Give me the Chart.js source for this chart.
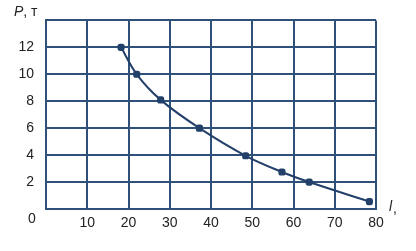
<!DOCTYPE html>
<html><head><meta charset="utf-8">
<script src="https://cdn.jsdelivr.net/npm/chart.js@4/dist/chart.umd.min.js"></script>
<style>html,body{margin:0;padding:0;background:#fff}#wrap{width:416px;height:251px}</style>
</head><body><div id="wrap"><canvas id="c" width="416" height="251"></canvas></div>
<script>
const lengthValues = [18.2, 22, 27.8, 37.2, 48.4, 57.2, 63.8, 78.4];
const forceValues = [12, 10, 8.1, 6, 3.95, 2.75, 2, 0.55];
const xTicks = [10, 20, 30, 40, 50, 60, 70, 80];
const yTicks = [2, 4, 6, 8, 10, 12];

const gridColor = '#2f5078';
const lineColor = '#22406a';
const textColor = '#222';
const FONT = '"Liberation Sans", Arial, sans-serif';

const extraText = {
  id: 'extraText',
  afterDraw(chart) {
    const ctx = chart.ctx;
    const xs = chart.scales.x, ys = chart.scales.y;
    ctx.save();
    ctx.fillStyle = textColor;
    ctx.textBaseline = 'middle';
    ctx.font = '14px ' + FONT;
    ctx.textAlign = 'center';
    ctx.fillText('0', xs.getPixelForValue(0) - 14, ys.getPixelForValue(0) + 10);
    ctx.textAlign = 'left';
    ctx.font = 'italic 14px ' + FONT;
    ctx.fillText('P', 14, 12);
    const w = ctx.measureText('P').width;
    ctx.font = '14px ' + FONT;
    ctx.fillText(', т', 14 + w, 12);
    ctx.font = 'italic 14px ' + FONT;
    ctx.fillText('l', 389, 207);
    ctx.font = '14px ' + FONT;
    ctx.fillText(',', 393, 209);
    ctx.restore();
  }
};

new Chart(document.getElementById('c'), {
  type: 'line',
  data: {
    datasets: [{
      data: lengthValues.map((x, i) => ({x, y: forceValues[i]})),
      borderColor: lineColor,
      backgroundColor: lineColor,
      borderWidth: 2,
      pointStyle: 'rectRounded',
      pointRadius: 3,
      tension: 0.35,
      fill: false
    }]
  },
  options: {
    responsive: false,
    animation: false,
    devicePixelRatio: 1,
    layout: {padding: {left: 0, right: 40, top: 13, bottom: 0}},
    plugins: {legend: {display: false}, tooltip: {enabled: false}},
    scales: {
      x: {
        type: 'linear', min: 0, max: 80,
        afterFit(s) { s.height = 42; },
        afterBuildTicks(s) { s.ticks = [0].concat(xTicks).map(v => ({value: v})); },
        grid: {color: gridColor, lineWidth: 2, drawTicks: false},
        border: {color: gridColor, width: 2},
        ticks: {
          padding: 6, color: textColor, maxRotation: 0,
          font: {family: FONT, size: 14},
          callback: v => v === 0 ? '' : String(v)
        }
      },
      y: {
        type: 'linear', min: 0, max: 14,
        afterFit(s) { s.width = 46; },
        afterBuildTicks(s) { s.ticks = [0].concat(yTicks, [14]).map(v => ({value: v})); },
        grid: {color: gridColor, lineWidth: 2, drawTicks: false},
        border: {color: gridColor, width: 2},
        ticks: {
          padding: 12, color: textColor,
          font: {family: FONT, size: 14},
          callback: v => (v === 0 || v === 14) ? '' : String(v)
        }
      }
    }
  },
  plugins: [extraText]
});
</script>
</body></html>
